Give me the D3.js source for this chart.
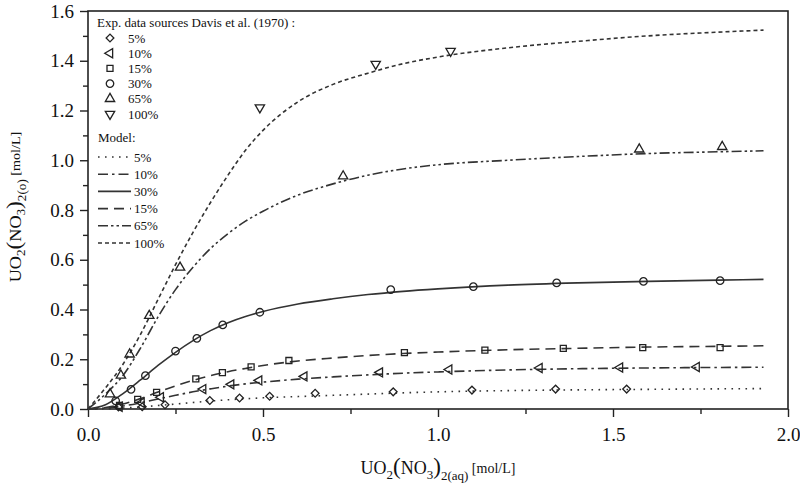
<!DOCTYPE html>
<html><head><meta charset="utf-8">
<script src="https://cdn.jsdelivr.net/npm/d3@7"></script>
<style>
body{margin:0;background:#fff}
svg{display:block}
svg text{font-family:'Liberation Serif','Times New Roman','DejaVu Serif',serif !important;fill:#111}
</style>
</head><body>
<svg id="c" width="800" height="491" font-family="Liberation Serif"></svg>
<script>
// ---------- data ----------
const seriesNames = ["5%", "10%", "15%", "30%", "65%", "100%"];

// experimental points (Davis et al. 1970): [aq, org]
const exp5   = [[0.087,0.008],[0.155,0.009],[0.22,0.017],[0.348,0.034],[0.433,0.044],[0.519,0.051],[0.649,0.063],[0.872,0.069],[1.097,0.076],[1.336,0.080],[1.539,0.080]];
const exp10  = [[0.090,0.009],[0.153,0.025],[0.208,0.047],[0.329,0.080],[0.409,0.099],[0.489,0.115],[0.618,0.131],[0.834,0.147],[1.032,0.159],[1.290,0.165],[1.520,0.167],[1.739,0.169]];
const exp15  = [[0.090,0.014],[0.142,0.039],[0.196,0.067],[0.308,0.121],[0.384,0.146],[0.466,0.169],[0.574,0.195],[0.904,0.227],[1.134,0.237],[1.358,0.244],[1.585,0.247],[1.806,0.247]];
const exp30  = [[0.079,0.033],[0.123,0.079],[0.164,0.134],[0.250,0.233],[0.311,0.284],[0.385,0.338],[0.491,0.389],[0.865,0.480],[1.101,0.492],[1.339,0.507],[1.587,0.513],[1.806,0.516]];
const exp65  = [[0.063,0.060],[0.094,0.135],[0.119,0.220],[0.175,0.375],[0.263,0.569],[0.729,0.936],[1.575,1.044],[1.812,1.054]];
const exp100 = [[0.491,1.212],[0.822,1.387],[1.036,1.439]];

// model curves sampled on a common aqueous-concentration grid
const modelX   = [0,0.05,0.1,0.15,0.2,0.25,0.3,0.35,0.4,0.45,0.5,0.6,0.7,0.8,0.9,1.0,1.2,1.4,1.6,1.8,1.93];
const model5   = [0,0.001,0.004,0.008,0.014,0.020,0.026,0.032,0.037,0.041,0.045,0.050,0.055,0.060,0.065,0.069,0.074,0.077,0.079,0.081,0.082];
const model10  = [0,0.004,0.012,0.025,0.040,0.055,0.069,0.081,0.092,0.101,0.108,0.120,0.129,0.137,0.144,0.149,0.157,0.162,0.165,0.167,0.168];
const model15  = [0,0.006,0.020,0.042,0.068,0.093,0.115,0.134,0.150,0.163,0.175,0.193,0.205,0.215,0.223,0.229,0.238,0.244,0.249,0.252,0.254];
const model30  = [0,0.017,0.062,0.117,0.175,0.228,0.275,0.315,0.347,0.372,0.392,0.422,0.443,0.460,0.473,0.483,0.498,0.507,0.513,0.518,0.521];
const model65  = [0,0.060,0.135,0.245,0.370,0.480,0.570,0.645,0.705,0.755,0.795,0.860,0.905,0.940,0.965,0.982,1.000,1.015,1.027,1.034,1.038];
const model100 = [0,0.085,0.180,0.300,0.440,0.580,0.710,0.830,0.940,1.040,1.120,1.235,1.305,1.350,1.388,1.415,1.452,1.478,1.500,1.515,1.523];

const xMajor = [0, 0.5, 1.0, 1.5, 2.0];
const xMinor = [0.25, 0.75, 1.25, 1.75];
const yMajor = [0, 0.2, 0.4, 0.6, 0.8, 1.0, 1.2, 1.4, 1.6];
const yMinor = [0.1, 0.3, 0.5, 0.7, 0.9, 1.1, 1.3, 1.5];

// ---------- drawing ----------
const FONT = "Liberation Serif";
const svg = d3.select("#c");
const L = 88, R = 788, T = 11, B = 409;
const x = d3.scaleLinear().domain([0, 2]).range([L, R]);
const y = d3.scaleLinear().domain([0, 1.6]).range([B, T]);
const ink = "#222";

// axes
const ax = svg.append("g");
const fmt = d3.format(".1f");
function styleAxis(g){
  g.attr("font-family", FONT);
  g.select(".domain").remove();
  g.selectAll(".tick line").attr("stroke", ink).attr("stroke-width", 1.4);
  g.selectAll(".tick text").attr("font-family", FONT).attr("font-size", 19).attr("fill", "#111");
}
ax.append("g").attr("transform", `translate(0,${B})`)
  .call(d3.axisBottom(x).tickValues(xMajor).tickFormat(fmt).tickSize(8).tickPadding(11)).call(styleAxis);
ax.append("g").attr("transform", `translate(0,${B})`)
  .call(d3.axisBottom(x).tickValues(xMinor).tickFormat("").tickSize(5)).call(styleAxis);
ax.append("g").attr("transform", `translate(${L},0)`)
  .call(d3.axisLeft(y).tickValues(yMajor).tickFormat(fmt).tickSize(8).tickPadding(6)).call(styleAxis);
ax.append("g").attr("transform", `translate(${L},0)`)
  .call(d3.axisLeft(y).tickValues(yMinor).tickFormat("").tickSize(5)).call(styleAxis);

svg.append("rect").attr("x", L).attr("y", T).attr("width", R - L).attr("height", B - T)
  .attr("fill", "none").attr("stroke", ink).attr("stroke-width", 1.6);

// line styles
const dashes = {
  "5%": "1.6,5.4",
  "10%": "10,4,2.5,4",
  "15%": "10,6",
  "30%": null,
  "65%": "10,3,2.5,3,2.5,3",
  "100%": "4,3"
};
const models = {"5%": model5, "10%": model10, "15%": model15, "30%": model30, "65%": model65, "100%": model100};
const exps = {"5%": exp5, "10%": exp10, "15%": exp15, "30%": exp30, "65%": exp65, "100%": exp100};

const line = d3.line().x(d => x(d[0])).y(d => y(d[1])).curve(d3.curveMonotoneX);
const plot = svg.append("g");
seriesNames.forEach(s => {
  const pts = modelX.map((v, i) => [v, models[s][i]]);
  plot.append("path").attr("d", line(pts)).attr("fill", "none")
    .attr("stroke", "#333").attr("stroke-width", 1.6)
    .attr("stroke-dasharray", dashes[s]);
});

// markers
const shapes = {
  "5%": {t: d3.symbolSquare, r: 45, s: 30},
  "10%": {t: d3.symbolTriangle, r: -90, s: 36},
  "15%": {t: d3.symbolSquare, r: 0, s: 36},
  "30%": {t: d3.symbolCircle, r: 0, s: 44},
  "65%": {t: d3.symbolTriangle, r: 0, s: 38},
  "100%": {t: d3.symbolTriangle, r: 180, s: 38}
};
function marker(g, s, cx, cy){
  const sh = shapes[s];
  g.append("path").attr("d", d3.symbol().type(sh.t).size(sh.s)())
    .attr("transform", `translate(${cx},${cy}) rotate(${sh.r})`)
    .attr("fill", "none").attr("stroke", ink).attr("stroke-width", 1.3);
}
seriesNames.forEach(s => {
  exps[s].forEach(d => marker(plot, s, x(d[0]), y(d[1])));
});

// legend
const lg = svg.append("g").attr("font-family", FONT);
lg.append("text").attr("x", 97).attr("y", 27).attr("font-size", 13).text("Exp. data sources Davis et al. (1970) :");
seriesNames.forEach((s, i) => {
  const cy = 38 + i * 15.2;
  marker(lg, s, 110, cy);
  lg.append("text").attr("x", 128).attr("y", cy + 4.5).attr("font-size", 13).text(s);
});
lg.append("text").attr("x", 98).attr("y", 142).attr("font-size", 13).text("Model:");
const modelOrder = ["5%", "10%", "30%", "15%", "65%", "100%"];
modelOrder.forEach((s, i) => {
  const cy = 157 + i * 17.2;
  lg.append("line").attr("x1", 98).attr("x2", 131).attr("y1", cy).attr("y2", cy)
    .attr("stroke", "#333").attr("stroke-width", 1.6).attr("stroke-dasharray", dashes[s]);
  lg.append("text").attr("x", 134).attr("y", cy + 4.5).attr("font-size", 13).text(s);
});

// axis titles with sub-scripts
function chemTitle(t, tail, k){
  const parts = [
    ["UO", 18, 0], ["2", 13, 5], ["(", 23, -5], ["NO", 18, 0], ["3", 13, 5], [")", 23, -5],
    [tail, 13, 6], [" [mol/L]", 14, -7]
  ];
  parts.forEach(([txt, fs, off]) => {
    t.append("tspan").attr("font-size", fs * k).attr("dy", off * k).text(txt);
  });
}
const xt = svg.append("text").attr("x", 438).attr("y", 474).attr("text-anchor", "middle").attr("font-family", FONT);
chemTitle(xt, "2(aq)", 1);
const yt = svg.append("text").attr("transform", "translate(21,207) rotate(-90) scale(1.15,1)").attr("text-anchor", "middle").attr("font-family", FONT);
chemTitle(yt, "2(o)", 0.88);
</script>
</body></html>
